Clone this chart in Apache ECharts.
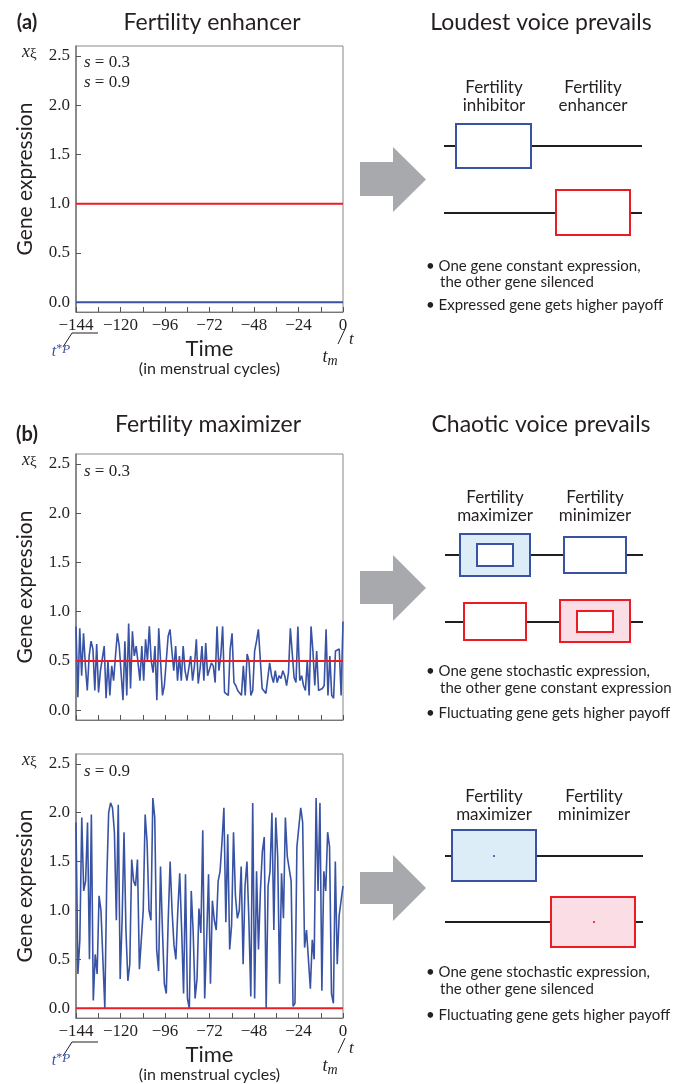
<!DOCTYPE html>
<html><head><meta charset="utf-8">
<script src="https://cdn.jsdelivr.net/npm/echarts@6/dist/echarts.min.js"></script>
<style>html,body{margin:0;padding:0;background:#fff}#c{width:700px;height:1084px}</style>
</head><body><div id="c"></div>
<script>
// ---------- data ----------
const timeTicks = [-144, -120, -96, -72, -48, -24, 0];
const exprTicks = [0, 0.5, 1.0, 1.5, 2.0, 2.5];
const timeRange = [-144, 0];
// panel (a): constant expression levels
const enhancerLevel = 1.0;   // red
const inhibitorLevel = 0.0;  // blue
// panel (b): constant (red) levels
const minimizerLevelS03 = 0.5;
const minimizerLevelS09 = 0.0;
// panel (b): fluctuating maximizer expression (blue)
const maximizerS03 = [0.85,0.13,0.83,0.35,0.78,0.45,0.2,0.55,0.7,0.62,0.2,0.67,0.18,0.4,0.4,0.65,0.12,0.5,0.15,0.45,0.3,0.55,0.78,0.65,0.65,0.1,0.7,0.15,0.88,0.22,0.8,0.55,0.65,0.48,0.3,0.65,0.3,0.72,0.5,0.85,0.5,0.38,0.65,0.1,0.83,0.83,0.15,0.25,0.25,0.75,0.82,0.6,0.4,0.65,0.3,0.55,0.3,0.65,0.4,0.3,0.3,0.55,0.3,0.45,0.72,0.27,0.42,0.65,0.3,0.68,0.35,0.35,0.48,0.45,0.28,0.85,0.4,0.55,0.85,0.18,0.17,0.15,0.62,0.78,0.28,0.25,0.2,0.18,0.15,0.45,0.15,0.57,0.5,0.15,0.2,0.6,0.7,0.82,0.83,0.22,0.2,0.17,0.15,0.48,0.35,0.28,0.4,0.28,0.35,0.32,0.4,0.35,0.25,0.38,0.83,0.82,0.33,0.28,0.85,0.3,0.35,0.25,0.2,0.5,0.15,0.85,0.6,0.25,0.6,0.2,0.2,0.22,0.25,0.82,0.15,0.55,0.15,0.12,0.6,0.6,0.62,0.15,0.9];
const maximizerS09 = [1.9,0.35,0.7,1.95,1.2,1.3,1.9,0.5,1.98,0.08,0.55,0.35,1.15,1.0,0.98,0.0,1.3,2.0,2.1,2.05,1.8,0.9,2.08,0.3,0.9,1.8,0.8,0.28,0.45,1.52,1.3,1.25,1.52,0.4,0.38,1.0,1.98,1.7,1.0,0.9,2.15,1.95,0.6,0.38,1.45,0.8,0.25,0.15,0.9,1.5,1.0,0.65,0.5,1.0,1.38,0.8,0.15,1.37,0.1,0.0,1.2,0.78,0.1,0.3,1.02,0.77,1.82,0.1,0.7,1.37,0.25,1.1,0.9,0.8,1.3,1.4,1.7,2.05,0.88,1.78,0.6,0.85,1.8,1.15,0.92,1.0,1.45,0.45,1.25,1.5,0.9,0.12,2.1,0.1,1.4,0.6,1.2,1.6,1.75,0.0,1.25,1.4,2.0,0.8,1.95,1.55,0.25,1.38,0.92,1.95,1.55,1.55,1.3,0.02,0.05,1.65,1.65,2.05,1.9,0.62,0.8,0.5,0.2,0.7,0.5,2.15,1.2,2.1,0.18,1.4,1.2,1.8,1.65,0.15,0.05,1.5,0.45,0.95,0.95,1.25];

// ---------- style ----------
const BLUE = '#3953a4', RED = '#ed1c24', INK = '#231f20', GREY = '#a7a9ac';
const SANS = 'Lato, "Noto Sans", sans-serif';
const SERIF = '"Liberation Serif", "DejaVu Serif", serif';

function timeSeries(vals) {
  const n = vals.length, span = timeRange[1] - timeRange[0];
  return vals.map((v, i) => [timeRange[0] + i * span / (n - 1), v]);
}
function constSeries(level) { return timeRange.map(t => [t, level]); }

const grids = [
  { left: 76, top: 46, width: 267, height: 266 },
  { left: 76, top: 454, width: 267, height: 266 },
  { left: 76, top: 754, width: 267, height: 267 }
];

function xAx(idx, labels) {
  return {
    type: 'value', gridIndex: idx, min: timeRange[0], max: timeRange[1], interval: 24,
    axisLine: { show: true, onZero: false, lineStyle: { color: '#777', width: 1 } },
    axisTick: { show: true, inside: true, length: 5, lineStyle: { color: '#555' } },
    minorTick: { show: true, splitNumber: 2, length: 5, lineStyle: { color: '#555' } },
    splitLine: { show: false },
    axisLabel: {
      show: labels, margin: 5, color: INK, fontFamily: SERIF, fontSize: 17,
      formatter: v => String(v).replace('-', '\u2212')
    },
    name: labels ? '{a|Time}\n{b|(in menstrual cycles)}' : '',
    nameLocation: 'middle', nameGap: 26,
    nameTextStyle: {
      rich: {
        a: { fontFamily: SANS, fontSize: 22, lineHeight: 22, color: INK },
        b: { fontFamily: SANS, fontSize: 16, lineHeight: 18, color: INK }
      }
    }
  };
}
function yAx(idx) {
  return {
    type: 'value', gridIndex: idx, min: -0.1, max: 2.6,
    axisLine: { show: true, onZero: false, lineStyle: { color: '#777', width: 1.5 } },
    axisTick: { show: true, inside: true, length: 5, customValues: exprTicks, lineStyle: { color: '#555' } },
    splitLine: { show: false },
    axisLabel: {
      margin: 6, color: INK, fontFamily: SERIF, fontSize: 17, customValues: exprTicks,
      formatter: v => Number(v).toFixed(1)
    },
    name: 'Gene expression', nameLocation: 'middle', nameGap: 40,
    nameTextStyle: { fontFamily: SANS, fontSize: 21, color: INK }
  };
}

function lineS(idx, data, color, width) {
  return {
    type: 'line', xAxisIndex: idx, yAxisIndex: idx, data: data,
    showSymbol: false, symbol: 'none', silent: true,
    lineStyle: { color: color, width: width }, animation: false
  };
}

// ---------- graphics (schematics & annotations) ----------
const G = [];
function txt(x, y, text, opt) {
  G.push(Object.assign({ type: 'text', silent: true, style: Object.assign({
    x: x, y: y, text: text, fill: INK, font: '16px ' + SANS, align: 'center', verticalAlign: 'middle'
  }, opt || {}) }));
}
function ln(x1, y1, x2, y2, color, w) {
  G.push({ type: 'line', silent: true, shape: { x1, y1, x2, y2 }, style: { stroke: color || INK, lineWidth: w || 2 } });
}
function box(x, y, w, h, stroke, fill) {
  G.push({ type: 'rect', silent: true, shape: { x, y, width: w, height: h }, style: { stroke: stroke, fill: fill || '#fff', lineWidth: 2 } });
}
function arrow(y0, y1, h0, h1) {
  const tip = (h0 + h1) / 2;
  G.push({ type: 'polygon', silent: true, shape: { points: [[360, y0], [393, y0], [393, h0], [426, tip], [393, h1], [393, y1], [360, y1]] }, style: { fill: GREY } });
}
function dot(x, y, c) { G.push({ type: 'circle', silent: true, shape: { cx: x, cy: y, r: 1.1 }, style: { fill: c } }); }

// panel labels & titles
txt(27, 23, '(a)', { font: 'bold 20px ' + SANS });
txt(212, 23, 'Fertility enhancer', { font: '23px ' + SANS });
txt(541, 23, 'Loudest voice prevails', { font: '23px ' + SANS });
txt(27, 435, '(b)', { font: 'bold 20px ' + SANS });
txt(208, 425, 'Fertility maximizer', { font: '23px ' + SANS });
txt(541, 425, 'Chaotic voice prevails', { font: '23px ' + SANS });

// x_xi labels and s labels
grids.forEach(g => {
  txt(22, g.top + 6, '{x|x}{k|\u03be}', { align: 'left', rich: {
    x: { fontFamily: SERIF, fontStyle: 'italic', fontSize: 18, fill: INK },
    k: { fontFamily: SERIF, fontSize: 15, fill: INK, padding: [4, 0, 0, 0] }
  } });
});
function sLab(x, y, val) {
  txt(x, y, '{i|s} = ' + val, { align: 'left', font: '17px ' + SERIF, rich: {
    i: { fontFamily: SERIF, fontStyle: 'italic', fontSize: 17, fill: INK }
  } });
}
sLab(84, 63, '0.3'); sLab(84, 83, '0.9');
sLab(84, 472, '0.3');
sLab(84, 772, '0.9');

// t*P and t_m annotations for panels with time labels
[grids[0], grids[2]].forEach(g => {
  const b = g.top + g.height;
  ln(72, b + 21, 98, b + 21, INK, 1);
  ln(72, b + 21, 63, b + 35, INK, 1);
  txt(61, b + 40, '{t|t}{s|*}{p|P}', { rich: {
    t: { fontFamily: SERIF, fontStyle: 'italic', fontSize: 16, fill: BLUE },
    s: { fontFamily: SERIF, fontSize: 12, fill: BLUE, padding: [0, 0, 6, 0] },
    p: { fontFamily: SERIF, fontStyle: 'italic', fontSize: 13, fill: BLUE, padding: [0, 0, 4, 0] }
  } });
  ln(345, b + 17, 338, b + 32, INK, 1);
  txt(349, b + 28, 't', { font: 'italic 17px ' + SERIF, align: 'left' });
  txt(330, b + 45, '{t|t}{m|m}', { rich: {
    t: { fontFamily: SERIF, fontStyle: 'italic', fontSize: 18, fill: INK },
    m: { fontFamily: SERIF, fontStyle: 'italic', fontSize: 14, fill: INK, padding: [8, 0, 0, 0] }
  } });
});

// ---- schematic (a)
arrow(162, 196, 147, 212);
txt(494, 88, 'Fertility', { font: '17px ' + SANS });
txt(494, 106, 'inhibitor', { font: '17px ' + SANS });
txt(593, 88, 'Fertility', { font: '17px ' + SANS });
txt(593, 106, 'enhancer', { font: '17px ' + SANS });
ln(444, 146, 642, 146);
box(456, 124, 75, 44, BLUE);
ln(444, 213, 642, 213);
box(556, 190, 74, 45, RED);
txt(426, 266, '\u2022 One gene constant expression,', { align: 'left', font: '15px ' + SANS });
txt(440, 282, 'the other gene silenced', { align: 'left', font: '15px ' + SANS });
txt(426, 305, '\u2022 Expressed gene gets higher payoff', { align: 'left', font: '15px ' + SANS });

// ---- schematic (b) top
arrow(571, 604, 555, 621);
txt(495, 498, 'Fertility', { font: '17px ' + SANS });
txt(495, 516, 'maximizer', { font: '17px ' + SANS });
txt(595, 498, 'Fertility', { font: '17px ' + SANS });
txt(595, 516, 'minimizer', { font: '17px ' + SANS });
ln(445, 555, 643, 555);
box(460, 534, 70, 42, BLUE, '#dcedf8');
box(477, 544, 36, 22, BLUE, '#fff');
box(564, 537, 62, 36, BLUE);
ln(445, 622, 643, 622);
box(464, 603, 62, 37, RED);
box(560, 600, 70, 42, RED, '#fbdde6');
box(577, 611, 36, 21, RED, '#fff');
txt(426, 671, '\u2022 One gene stochastic expression,', { align: 'left', font: '15px ' + SANS });
txt(440, 688, 'the other gene constant expression', { align: 'left', font: '15px ' + SANS });
txt(426, 713, '\u2022 Fluctuating gene gets higher payoff', { align: 'left', font: '15px ' + SANS });

// ---- schematic (b) bottom
arrow(872, 904, 855, 921);
txt(494, 797, 'Fertility', { font: '17px ' + SANS });
txt(494, 815, 'maximizer', { font: '17px ' + SANS });
txt(594, 797, 'Fertility', { font: '17px ' + SANS });
txt(594, 815, 'minimizer', { font: '17px ' + SANS });
ln(445, 856, 643, 856);
box(452, 830, 84, 51, BLUE, '#dcedf8');
dot(494, 856, BLUE);
ln(445, 922, 643, 922);
box(551, 897, 84, 50, RED, '#fbdde6');
dot(594, 922, RED);
txt(426, 972, '\u2022 One gene stochastic expression,', { align: 'left', font: '15px ' + SANS });
txt(440, 989, 'the other gene silenced', { align: 'left', font: '15px ' + SANS });
txt(426, 1015, '\u2022 Fluctuating gene gets higher payoff', { align: 'left', font: '15px ' + SANS });

// ---------- chart ----------
const chart = echarts.init(document.getElementById('c'), null, { renderer: 'canvas' });
chart.setOption({
  animation: false,
  backgroundColor: '#fff',
  grid: grids.map(g => Object.assign({ show: true, borderColor: '#888', borderWidth: 1, backgroundColor: 'transparent' }, g)),
  xAxis: [xAx(0, true), xAx(1, false), xAx(2, true)],
  yAxis: [yAx(0), yAx(1), yAx(2)],
  series: [
    lineS(0, constSeries(inhibitorLevel), BLUE, 2),
    lineS(0, constSeries(enhancerLevel), RED, 2),
    lineS(1, timeSeries(maximizerS03), BLUE, 1.6),
    lineS(1, constSeries(minimizerLevelS03), RED, 2),
    lineS(2, timeSeries(maximizerS09), BLUE, 1.6),
    lineS(2, constSeries(minimizerLevelS09), RED, 2)
  ],
  graphic: { elements: G }
});
</script>
</body></html>
